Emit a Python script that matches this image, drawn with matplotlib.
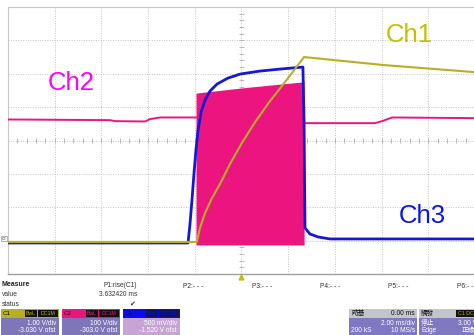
import matplotlib.pyplot as plt
import matplotlib.patches as patches
import numpy as np

plt.rcParams['font.family'] = ['Liberation Sans', 'Noto Sans CJK TC', 'DejaVu Sans']

# Time base: 2 ms/div, 10 divisions, trigger delay 0 ms
ms_per_div = 2.0
trig_delay = 0.0

# Ch1 (1.00 V/div), values in divisions
ch1_t = [-10.0, -1.91, -1.78, -1.56, -1.26, -0.92, -0.49, 0.02, 0.58, 1.22, 1.86, 2.68, 6.10, 9.96]
ch1_v = [-3.04, -3.04, -2.62, -2.17, -1.72, -1.30, -0.70, -0.07, 0.55, 1.18, 1.75, 2.50, 2.26, 2.05]

# Ch2 (100 V/div): steady level before and after, switching burst in between
ch2_pre_t = [-10.0, -5.63, -5.42, -4.13, -3.92, -3.49, -1.95]
ch2_pre_v = [0.63, 0.61, 0.58, 0.57, 0.64, 0.69, 0.69]
burst_t = [-1.95, -0.06, 1.22, 2.55, 2.68]
burst_top = [1.42, 1.57, 1.66, 1.75, 1.78]
burst_low = -3.13
ch2_post_t = [2.72, 5.72, 6.02, 6.45, 9.96]
ch2_post_v = [0.52, 0.52, 0.58, 0.69, 0.67]

# Ch3 (500 mV/div)
ch3_t = [-10.0, -2.29, -2.21, -2.12, -2.03, -1.95, -1.86, -1.73, -1.56, -1.35, -1.05, -0.58,
         -0.06, 0.79, 1.65, 2.63, 2.68, 2.72, 2.93, 3.28, 3.79, 9.96]
ch3_v = [-3.07, -3.07, -2.53, -1.78, -0.94, -0.28, 0.31, 0.85, 1.21, 1.48, 1.69, 1.87,
         1.99, 2.08, 2.14, 2.20, 0.50, -2.62, -2.80, -2.89, -2.95, -2.95]

measure_labels = ["P1:rise(C1)", "P2:- - -", "P3:- - -", "P4:- - -", "P5:- - -", "P6:- - -"]
measure_value = "3.632420 ms"

c1 = '#b8b020'
c2 = '#ec1580'
c3 = '#1616d8'

W, H = 474, 335
fig = plt.figure(figsize=(W / 100, H / 100), dpi=100)


def fx(px):
    return px / W


def fy(py):
    return 1 - py / H


# screen area: 10 x 8 divisions
ax = fig.add_axes([fx(8), fy(274), 467 / W, 267 / H])
ax.set_xlim(-5 * ms_per_div, 5 * ms_per_div)
ax.set_ylim(-4, 4)
ax.set_xticks(np.arange(-10, 10.1, ms_per_div))
ax.set_yticks(np.arange(-4, 4.1, 1))
ax.grid(True, color='#c4c4c4', linestyle=(0, (1, 1.5)), linewidth=0.7)
ax.tick_params(length=0, labelbottom=False, labelleft=False)
for s in ['top', 'left']:
    ax.spines[s].set_color('#c8c8c8')
    ax.spines[s].set_linewidth(0.8)
ax.spines['right'].set_visible(False)
ax.spines['bottom'].set_color('#a0a0a0')
ax.spines['bottom'].set_linewidth(1.0)

# small ticks on the centre lines
minor = np.arange(-10, 10.01, ms_per_div / 5)
ax.vlines(minor, -0.07, 0.07, color='#b0b0b0', linewidth=0.6)
ax.hlines(np.arange(-4, 4.01, 0.2), -0.12, 0.12, color='#b0b0b0', linewidth=0.6)

# traces
ax.plot(ch2_pre_t, ch2_pre_v, color=c2, linewidth=1.4, zorder=3)
ax.plot(ch2_post_t, ch2_post_v, color=c2, linewidth=1.4, zorder=3)
ax.fill_between(burst_t, burst_low, burst_top, color=c2, linewidth=0, zorder=3)
ax.plot(ch3_t, ch3_v, color=c3, linewidth=2.0, zorder=4)
ax.plot(ch1_t, ch1_v, color=c1, linewidth=1.5, zorder=5)

ax.text(-8.29, 1.51, "Ch2", color='#ff00ff', fontsize=18.5, va='baseline', ha='left', zorder=6)
ax.text(6.19, 2.95, "Ch1", color='#c4c000', fontsize=18.5, va='baseline', ha='left', zorder=6)
ax.text(6.75, -2.48, "Ch3", color='#0a14f0', fontsize=18.5, va='baseline', ha='left', zorder=6)

# trigger marker and channel ground marker
ax.plot([trig_delay], [-4.1], marker='^', color='#c8c000', markersize=3.5, clip_on=False)
fig.patches.append(patches.Rectangle((fx(1), fy(241)), 6 / W, 5 / H, transform=fig.transFigure,
                                     facecolor='white', edgecolor='#909090', linewidth=0.5))
fig.text(fx(4), fy(238.5), "C3", fontsize=2.5, ha='center', va='center', color='#404040')

# measurement area
txt = dict(fontsize=4.8, color='#333333', va='center')
fig.text(fx(2), fy(285), "Measure", fontweight='bold', fontsize=5, color='#222222', va='center')
fig.text(fx(2), fy(295), "value", **txt)
fig.text(fx(2), fy(305), "status", **txt)
fig.text(fx(137), fy(285.5), measure_labels[0], ha='right', **txt)
fig.text(fx(137), fy(295), measure_value, ha='right', **txt)
fig.text(fx(132), fy(304), "\u2714", ha='center', family='DejaVu Sans', fontsize=5, color='#333333', va='center')
for lab, px in zip(measure_labels[1:], [183, 252, 320, 388, 457]):
    fig.text(fx(px), fy(286), lab, ha='left', **txt)


def rect(x0, y0, x1, y1, color):
    fig.patches.append(patches.Rectangle((fx(x0), fy(y1)), (x1 - x0) / W, (y1 - y0) / H,
                                         transform=fig.transFigure, facecolor=color,
                                         edgecolor='none'))


channels = [
    ("C1", 1, 59, c1, '#7e76b8', '#111111', "1.00 V/div", "-3.030 V ofst"),
    ("C2", 62, 120, c2, '#7e76b8', '#111111', "100 V/div", "-303.0 V ofst"),
    ("C3", 123, 180, '#0a0af0', '#c6a4d6', '#101060', "500 mV/div", "-1.520 V ofst"),
]
for name, x0, x1, head, body, boxc, l1, l2 in channels:
    rect(x0, 309, x1, 317.5, head)
    rect(x0, 317.5, x1, 335, body)
    rect(x1 - 34, 310, x1 - 22, 316.5, boxc)
    rect(x1 - 21, 310, x1 - 1, 316.5, boxc)
    fig.text(fx(x0 + 2), fy(313.5), name, fontsize=4.5, color='#111111', va='center')
    fig.text(fx(x1 - 28), fy(313.5), "BwL", fontsize=3.8, color=head, va='center', ha='center')
    fig.text(fx(x1 - 11), fy(313.5), "DC1M", fontsize=3.8, color=head, va='center', ha='center')
    fig.text(fx(x1 - 3), fy(323.5), l1, fontsize=4.8, color='white', va='center', ha='right')
    fig.text(fx(x1 - 3), fy(330.5), l2, fontsize=4.8, color='white', va='center', ha='right')

# timebase box
rect(349, 309, 417, 317.5, '#c4c4cc')
rect(349, 317.5, 417, 335, '#8078c0')
fig.text(fx(351), fy(313.5), "時基", fontsize=4.8, color='#111111', va='center')
fig.text(fx(415), fy(313.5), "0.00 ms", fontsize=4.8, color='#111111', va='center', ha='right')
fig.text(fx(415), fy(323.5), "2.00 ms/div", fontsize=4.8, color='white', va='center', ha='right')
fig.text(fx(351), fy(330.5), "200 kS", fontsize=4.8, color='white', va='center')
fig.text(fx(415), fy(330.5), "10 MS/s", fontsize=4.8, color='white', va='center', ha='right')

# trigger box
rect(419, 309, 480, 317.5, '#c4c4cc')
rect(419, 317.5, 480, 335, '#8078c0')
rect(456, 310, 480, 316.5, '#111111')
fig.text(fx(421), fy(313.5), "觸發", fontsize=4.8, color='#111111', va='center')
fig.text(fx(458), fy(313.5), "C1 DC", fontsize=3.8, color=c1, va='center')
fig.text(fx(421), fy(323.5), "停止", fontsize=4.8, color='white', va='center')
fig.text(fx(458), fy(323.5), "3.00 V", fontsize=4.8, color='white', va='center')
fig.text(fx(421), fy(330.5), "Edge", fontsize=4.8, color='white', va='center')
fig.text(fx(462), fy(330.5), "正緣", fontsize=4.8, color='white', va='center')

fig.savefig('out.png', dpi=100)
